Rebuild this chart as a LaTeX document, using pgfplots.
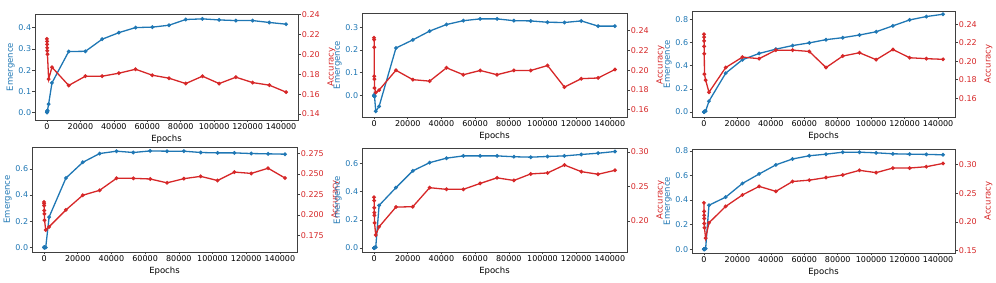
\documentclass[border=0pt]{standalone}
\usepackage{fontspec}
\setmainfont{DejaVu Sans}
\usepackage{pgfplots}
\pgfplotsset{compat=1.18}
\definecolor{tblue}{HTML}{1F77B4}
\definecolor{tred}{HTML}{D62728}
\pgfplotsset{
 base/.style={scale only axis, xmin=-7150, xmax=150150,
   axis line style={black!75, line width=0.6pt},
   tick style={black!75, line width=0.6pt}, major tick length=2.5pt, tick align=outside,
   ticklabel style={font=\fontsize{8}{8}\selectfont, inner sep=1.2pt},
   label style={font=\fontsize{8.5}{9}\selectfont},
   /pgf/number format/assume math mode=true,
   every axis plot/.append style={line width=1.3pt, mark=*, mark size=1.2pt}},
 leftax/.style={base, xtick={0,20000,...,140000}, scaled x ticks=false,
   xticklabel style={/pgf/number format/.cd,fixed,1000 sep={}},
   xtick pos=bottom, ytick pos=left,
   yticklabel style={tblue, /pgf/number format/.cd, fixed, fixed zerofill, precision=1},
   xlabel={Epochs}, ylabel={Emergence}, ylabel style={tblue, yshift=-1pt}, xlabel style={yshift=0pt}},
 rightax/.style={base, axis x line=none, axis y line*=right,
   yticklabel style={tred, /pgf/number format/.cd, fixed, fixed zerofill, precision=2},
   ylabel={Accuracy}, ylabel style={tred}, ylabel shift=3pt},
}
\newcommand{\panel}[8]{%
\begin{axis}[leftax, at={(#1pt,#2pt)}, anchor=south west, width=#3pt, height=#4pt, #5]
\addplot[tblue] coordinates {#7};
\end{axis}
\begin{axis}[rightax, at={(#1pt,#2pt)}, anchor=south west, width=#3pt, height=#4pt, #6]
\addplot[tred] coordinates {#8};
\end{axis}}
\begin{document}
\begin{tikzpicture}
\useasboundingbox (0,0) rectangle (996pt,283pt);
% Panel 1
\panel{35}{163}{263}{106}{ymin=-0.035, ymax=0.465, ytick={0,0.1,0.2,0.3,0.4}}{ymin=0.134, ymax=0.2405, ytick={0.14,0.16,0.18,0.2,0.22,0.24}}
{(0,0)(50,0.002)(100,0.004)(150,0.006)(200,0.008)(300,0.01)(1000,0.04)(3000,0.14)(13000,0.288)(23000,0.289)(33000,0.346)(43000,0.377)(53000,0.401)(63000,0.403)(73000,0.412)(83000,0.439)(93000,0.442)(103000,0.437)(113000,0.434)(123000,0.434)(133000,0.425)(143000,0.417)}
{(0,0.2155)(50,0.213)(100,0.210)(150,0.2065)(200,0.2035)(300,0.200)(1000,0.175)(3000,0.187)(13000,0.1687)(23000,0.178)(33000,0.178)(43000,0.181)(53000,0.185)(63000,0.179)(73000,0.176)(83000,0.1706)(93000,0.178)(103000,0.1706)(113000,0.177)(123000,0.1716)(133000,0.169)(143000,0.162)}
% Panel 2
\panel{362}{166}{265}{104}{ymin=-0.096, ymax=0.364, ytick={0,0.1,0.2,0.3}}{ymin=0.1527, ymax=0.258, ytick={0.16,0.18,0.2,0.22,0.24}}
{(0,0)(50,-0.004)(100,0.0)(150,-0.002)(200,-0.003)(300,-0.005)(1000,-0.071)(3000,-0.049)(13000,0.209)(23000,0.245)(33000,0.284)(43000,0.313)(53000,0.330)(63000,0.338)(73000,0.338)(83000,0.330)(93000,0.329)(103000,0.323)(113000,0.322)(123000,0.329)(133000,0.306)(143000,0.306)}
{(0,0.233)(50,0.231)(100,0.2234)(150,0.194)(200,0.191)(300,0.182)(1000,0.1776)(3000,0.180)(13000,0.200)(23000,0.1905)(33000,0.189)(43000,0.2025)(53000,0.1955)(63000,0.1998)(73000,0.1955)(83000,0.1998)(93000,0.1998)(103000,0.2048)(113000,0.183)(123000,0.1915)(133000,0.1922)(143000,0.2008)}
% Panel 3
\panel{692}{166}{263}{106}{ymin=-0.0426, ymax=0.871, ytick={0,0.2,0.4,0.6,0.8}}{ymin=0.1397, ymax=0.2542, ytick={0.16,0.18,0.2,0.22,0.24}}
{(0,0)(50,0.001)(100,0.002)(150,0.003)(200,0.004)(300,0.005)(1000,0.008)(3000,0.094)(13000,0.335)(23000,0.451)(33000,0.505)(43000,0.542)(53000,0.573)(63000,0.596)(73000,0.624)(83000,0.641)(93000,0.664)(103000,0.692)(113000,0.743)(123000,0.794)(133000,0.823)(143000,0.843)}
{(0,0.229)(50,0.226)(100,0.222)(150,0.216)(200,0.208)(300,0.186)(1000,0.1796)(3000,0.1664)(13000,0.1931)(23000,0.2044)(33000,0.2027)(43000,0.2119)(53000,0.2119)(63000,0.2105)(73000,0.1931)(83000,0.2055)(93000,0.2091)(103000,0.2016)(113000,0.2126)(123000,0.2037)(133000,0.2027)(143000,0.202)}
% Panel 4
\panel{32}{31}{265}{105}{ymin=-0.035, ymax=0.767, ytick={0,0.2,0.4,0.6}}{ymin=0.155, ymax=0.283, ytick={0.175,0.2,0.225,0.25,0.275}, yticklabel style={/pgf/number format/precision=3}}
{(0,0)(50,0)(100,0)(150,0)(200,0)(300,0)(1000,0.0)(3000,0.232)(13000,0.530)(23000,0.650)(33000,0.717)(43000,0.735)(53000,0.725)(63000,0.737)(73000,0.735)(83000,0.735)(93000,0.725)(103000,0.722)(113000,0.722)(123000,0.717)(133000,0.715)(143000,0.712)}
{(0,0.216)(50,0.214)(100,0.2115)(150,0.2056)(200,0.2016)(300,0.1937)(1000,0.1817)(3000,0.1857)(13000,0.2063)(23000,0.2242)(33000,0.2302)(43000,0.2448)(53000,0.2448)(63000,0.244)(73000,0.2393)(83000,0.2444)(93000,0.2472)(103000,0.2421)(113000,0.2524)(123000,0.2508)(133000,0.2571)(143000,0.2452)}
% Panel 5
\panel{362}{31}{265}{104}{ymin=-0.028, ymax=0.709, ytick={0,0.2,0.4,0.6}}{ymin=0.1548, ymax=0.3057, ytick={0.2,0.25,0.3}}
{(0,0)(50,0)(100,0.001)(150,0.001)(200,0.002)(300,0.003)(1000,0.005)(3000,0.302)(13000,0.428)(23000,0.547)(33000,0.605)(43000,0.637)(53000,0.653)(63000,0.653)(73000,0.653)(83000,0.647)(93000,0.644)(103000,0.649)(113000,0.653)(123000,0.663)(133000,0.672)(143000,0.684)}
{(0,0.2343)(50,0.2295)(100,0.219)(150,0.2119)(200,0.208)(300,0.197)(1000,0.1795)(3000,0.1914)(13000,0.22)(23000,0.2205)(33000,0.2481)(43000,0.2457)(53000,0.2457)(63000,0.2543)(73000,0.2624)(83000,0.2586)(93000,0.2681)(103000,0.2695)(113000,0.281)(123000,0.2714)(133000,0.2676)(143000,0.2733)}
% Panel 6
\panel{692}{30}{263}{104}{ymin=-0.03, ymax=0.815, ytick={0,0.2,0.4,0.6,0.8}}{ymin=0.146, ymax=0.3268, ytick={0.15,0.2,0.25,0.3}}
{(0,0)(50,0)(100,0.001)(150,0.001)(200,0.002)(300,0.003)(1000,0.005)(3000,0.358)(13000,0.424)(23000,0.535)(33000,0.612)(43000,0.686)(53000,0.734)(63000,0.760)(73000,0.773)(83000,0.789)(93000,0.789)(103000,0.784)(113000,0.776)(123000,0.773)(133000,0.771)(143000,0.768)}
{(0,0.2332)(50,0.2184)(100,0.2116)(150,0.2059)(200,0.1973)(300,0.1899)(1000,0.1717)(3000,0.1985)(13000,0.227)(23000,0.2469)(33000,0.2618)(43000,0.2532)(53000,0.2703)(63000,0.2726)(73000,0.2771)(83000,0.2817)(93000,0.2897)(103000,0.2857)(113000,0.2937)(123000,0.2937)(133000,0.296)(143000,0.3017)}
\end{tikzpicture}
\end{document}
